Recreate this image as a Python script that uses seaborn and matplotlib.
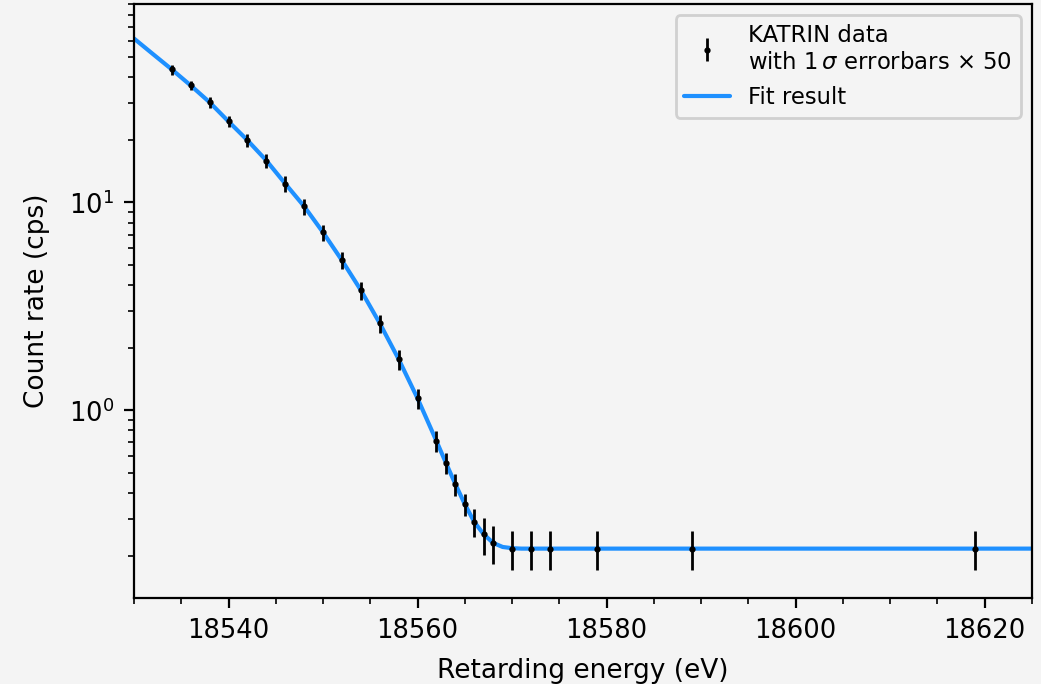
import numpy as np
import pandas as pd
import matplotlib
matplotlib.use("Agg")
import matplotlib.pyplot as plt
import seaborn as sns
from matplotlib.ticker import MultipleLocator

# Measured retarding energies (eV) and count rates (cps)
energy = [18534, 18536, 18538, 18540, 18542, 18544, 18546, 18548, 18550,
          18552, 18554, 18556, 18558, 18560, 18562, 18563, 18564, 18565,
          18566, 18567, 18568, 18570, 18572, 18574, 18579, 18589, 18619]
rate = [43.6, 36.5, 30.3, 24.5, 19.9, 15.9, 12.3, 9.57, 7.17,
        5.26, 3.78, 2.62, 1.76, 1.14, 0.71, 0.558, 0.441, 0.353,
        0.290, 0.253, 0.229, 0.216, 0.216, 0.216, 0.216, 0.216, 0.216]
# 1 sigma statistical uncertainties (cps)
sigma = [0.0482, 0.0384, 0.0352, 0.0312, 0.0286, 0.0254, 0.0210, 0.0166, 0.0130,
         0.0100, 0.0075, 0.0052, 0.0038, 0.0025, 0.00164, 0.00129, 0.00105, 0.00086,
         0.00089, 0.00102, 0.00095, 0.00092, 0.00092, 0.00092, 0.00092, 0.00092, 0.00092]
err_scale = 50

# Fitted model evaluated on an energy grid
fit_energy = [18530, 18532, 18534, 18536, 18538, 18540, 18542, 18544, 18546,
              18548, 18550, 18552, 18554, 18556, 18558, 18560, 18561, 18562,
              18563, 18564, 18565, 18566, 18567, 18568, 18569, 18570, 18571,
              18572, 18625]
fit_rate = [61.4, 51.7, 43.6, 36.5, 30.3, 24.5, 19.9, 15.9, 12.3,
            9.57, 7.17, 5.26, 3.78, 2.62, 1.76, 1.14, 0.90, 0.71,
            0.558, 0.441, 0.353, 0.290, 0.253, 0.230, 0.220, 0.217, 0.216,
            0.216, 0.216]

bg = "#f4f4f4"
sns.set_style("ticks", rc={"axes.facecolor": bg, "figure.facecolor": bg,
                           "axes.edgecolor": "black", "xtick.color": "black",
                           "ytick.color": "black", "axes.labelcolor": "black",
                           "text.color": "black", "axes.grid": False})
plt.rcParams["font.family"] = ["DejaVu Sans"]
plt.rcParams["mathtext.fontset"] = "dejavusans"

fig = plt.figure(figsize=(1041 / 200, 684 / 200), dpi=200)
fig.patch.set_facecolor(bg)
ax = fig.add_axes([134 / 1041, 1 - 598 / 684, (1032 - 134) / 1041, (598 - 4) / 684])
ax.set_facecolor(bg)

fit_df = pd.DataFrame({"energy": fit_energy, "rate": fit_rate})
data_df = pd.DataFrame({"energy": energy, "rate": rate, "sigma": sigma})

sns.lineplot(data=fit_df, x="energy", y="rate", ax=ax, color="#1e90ff",
             linewidth=1.5, label="Fit result", zorder=2)
ax.errorbar(data_df["energy"], data_df["rate"],
            yerr=data_df["sigma"] * err_scale, fmt=".", color="black",
            markersize=2.5, elinewidth=1.0, capsize=0, zorder=3,
            label="KATRIN data\nwith 1$\\,\\sigma$ errorbars \u00d7 50")

ax.set_yscale("log")
ax.set_xlim(18530, 18625)
ax.set_ylim(0.125, 90)
ax.xaxis.set_major_locator(MultipleLocator(20))
ax.xaxis.set_minor_locator(MultipleLocator(5))
for s in ax.spines.values():
    s.set_visible(True)
    s.set_linewidth(0.8)
ax.tick_params(axis="both", which="major", labelsize=9.3, length=3.6, width=0.8)
ax.tick_params(axis="both", which="minor", length=2.1, width=0.6)
ax.set_xlabel("Retarding energy (eV)", fontsize=9.5, labelpad=5)
ax.set_ylabel("Count rate (cps)", fontsize=9.5, labelpad=7)

handles, labels = ax.get_legend_handles_labels()
order = [labels.index(l) for l in labels if l.startswith("KATRIN")] + \
        [labels.index(l) for l in labels if l == "Fit result"]
ax.legend([handles[i] for i in order], [labels[i] for i in order],
          loc="upper right", fontsize=8.2, frameon=True, fancybox=True,
          labelspacing=0.55, borderpad=0.38,
          facecolor=bg, edgecolor="#d0d0d0", framealpha=1)

fig.savefig("out.png", dpi=200, facecolor=bg)
